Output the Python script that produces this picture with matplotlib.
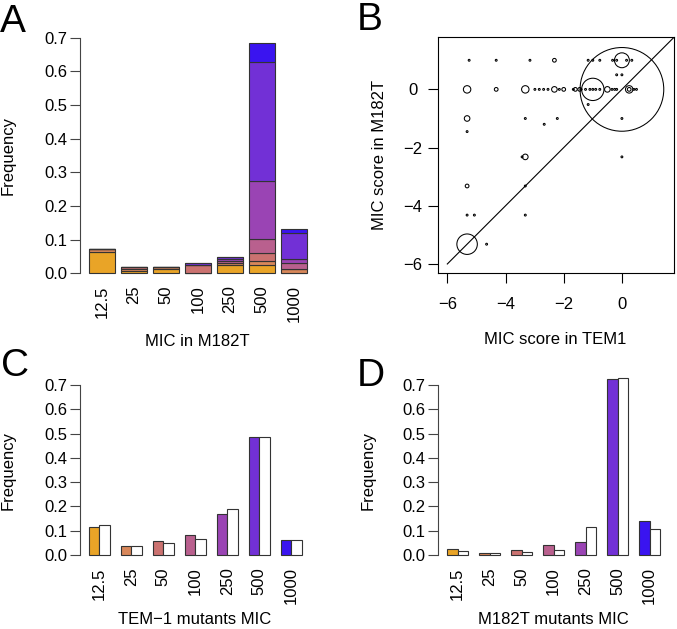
import matplotlib
matplotlib.use('Agg')
import matplotlib.pyplot as plt
import numpy as np

plt.rcParams['font.family'] = ['Liberation Sans', 'DejaVu Sans']
plt.rcParams['font.size'] = 12

#MIC classes and their colours
mic_labels = ['12.5', '25', '50', '100', '250', '500', '1000']
mic_colors = ['#E9A427', '#D8875A', '#CB7270', '#B9608E', '#9A44B4', '#7230D6', '#3A14F0']

#Panel A: stacked frequency, rows = colour class (TEM1 MIC), cols = MIC in M182T
stack_a = [
    [0.064, 0.007, 0.012, 0.000, 0.024, 0.024, 0.000],   # 12.5
    [0.008, 0.006, 0.008, 0.000, 0.008, 0.0125, 0.012],  # 25
    [0.000, 0.007, 0.000, 0.024, 0.000, 0.0245, 0.000],  # 50
    [0.000, 0.000, 0.000, 0.000, 0.005, 0.041, 0.018],   # 100
    [0.000, 0.000, 0.000, 0.000, 0.006, 0.173, 0.012],   # 250
    [0.000, 0.000, 0.000, 0.008, 0.006, 0.353, 0.077],   # 500
    [0.000, 0.000, 0.000, 0.000, 0.000, 0.055, 0.013],   # 1000
]

#Panel B: MIC scores of each mutant class and number of mutants
tem1_score = [-5.25, -4.32, -3.16, -2.32, -1.16, -1.0, -0.76, -0.32, -0.18, 0.0, 0.16, 0.34,
              -0.18, 0.0,
              -5.32, -4.32, -3.32, -2.99, -2.84, -2.69, -2.54, -2.32, -2.15, -2.0, -1.67, -1.6,
              -1.45, -1.40, -1.25, -1.10, -1.0, -1.0, -0.90, -0.76, -0.5, -0.34, -0.25, -0.18,
              0.0, 0.25, 0.25, 0.41, 0.5,
              -1.16, -5.32, -3.32, -2.22, -2.67, 0.0, -5.32, -3.32, -3.43, 0.0, -5.32, -3.32,
              -5.32, -5.07, -3.32, -5.32, -4.65]
m182t_score = [1, 1, 1, 1, 1, 1, 1, 1, 1, 1, 1, 1,
               0.5, 0.5,
               0, 0, 0, 0, 0, 0, 0, 0, 0, 0, 0, 0,
               0, 0, 0, 0, 0, 0, 0, 0, 0, 0, 0, 0,
               0, 0, 0, 0, 0,
               -0.52, -1, -1, -1, -1.2, -1, -1.45, -2.32, -2.32, -2.32, -3.32, -3.32,
               -4.32, -4.32, -4.32, -5.32, -5.32]
n_mut = [1, 1, 1, 2, 1, 1, 1, 1, 1, 8, 1, 1,
         1, 1,
         4, 2, 4, 1, 1, 1, 1, 3, 1, 2, 1, 2,
         2, 1, 1, 1, 12, 1, 1, 1, 3, 1, 1, 1,
         45, 4, 2, 1, 1,
         1, 3, 1, 1, 1, 1, 1, 3, 1, 1, 2, 1,
         1, 1, 1, 11, 1]

#Panel C and D: colored = observed, white = second series
freq_c = [0.114, 0.038, 0.058, 0.081, 0.169, 0.486, 0.060]
freq_c_white = [0.122, 0.038, 0.049, 0.066, 0.188, 0.486, 0.060]
freq_d = [0.023, 0.007, 0.019, 0.040, 0.052, 0.725, 0.141]
freq_d_white = [0.015, 0.008, 0.014, 0.021, 0.114, 0.729, 0.108]

W, H = 677, 629
fig = plt.figure(figsize=(W / 100, H / 100), dpi=100)


def add_ax(l, t, r, b):
    return fig.add_axes([l / W, 1 - b / H, (r - l) / W, (b - t) / H])


def label(x, y, s, **kw):
    fig.text(x / W, 1 - y / H, s, ha='center', va='center', **kw)


def freq_axis(ax):
    for side in ['top', 'right', 'bottom']:
        ax.spines[side].set_visible(False)
    ax.spines['left'].set_bounds(0, 0.7)
    ax.spines['left'].set_color('#444444')
    yt = np.arange(0, 0.71, 0.1)
    ax.set_yticks(yt)
    ax.set_yticklabels(['%.1f' % v for v in yt])
    ax.tick_params(axis='y', length=7, width=0.8, color='#444444', pad=2)
    ax.set_ylim(-0.028, 0.728)


edge = '#333333'

#Panel A
ax = add_ax(80, 28.3, 316.2, 282.7)
xa = 0.7 + 1.2 * np.arange(len(mic_labels))
bottom = np.zeros(len(mic_labels))
for i, row in enumerate(stack_a):
    row = np.array(row)
    ax.bar(xa, row, width=1.0, bottom=bottom, color=mic_colors[i], edgecolor=edge,
           linewidth=0.8)
    bottom += row
ax.set_xlim(-0.128, 8.728)
freq_axis(ax)
ax.set_xticks(xa)
ax.set_xticklabels(mic_labels, rotation=90, va='top', ha='center')
ax.tick_params(axis='x', length=0, pad=2)
label(197, 341, 'MIC in M182T')
label(8, 155.5, 'Frequency', rotation=90)

#Panel B
ax = add_ax(438, 37, 674, 273)
diag = [-6, 2]
ax.plot(diag, diag, color='black', linewidth=0.8)
sizes = (1.44 * 0.93 * np.array(n_mut)) ** 2
ax.scatter(tem1_score, m182t_score, s=sizes, facecolors='none', edgecolors='black',
           linewidths=0.75, clip_on=False, zorder=3)
ax.set_xlim(-6.32, 1.79)
ax.set_ylim(-6.31, 1.8)
ticks_b = [-6, -4, -2, 0]
tick_txt = ['\u22126', '\u22124', '\u22122', '0']
ax.set_xticks(ticks_b)
ax.set_xticklabels(tick_txt)
ax.set_yticks(ticks_b)
ax.set_yticklabels(tick_txt, ha='center')
ax.tick_params(axis='x', length=7, width=0.8, pad=10)
ax.tick_params(axis='y', length=7, width=0.8, pad=11)
for sp in ax.spines.values():
    sp.set_linewidth(0.8)
label(555, 340, 'MIC score in TEM1')
label(380, 155, 'MIC score in M182T', rotation=90)

#Panel C and D
xc = 1 + 3 * np.arange(len(mic_labels))
for (l, r), col, white, xl, yx, xlab in [
        ((80, 310.4), freq_c, freq_c_white, 195, 8, 'TEM\u22121 mutants MIC'),
        ((438.3, 668.7), freq_d, freq_d_white, 553, 368, 'M182T mutants MIC')]:
    ax = add_ax(l, 378.2, r, 561.8)
    ax.bar(xc, col, width=1.0, align='edge', color=mic_colors, edgecolor=edge,
           linewidth=0.8, clip_on=False)
    ax.bar(xc + 1, white, width=1.0, align='edge', color='white', edgecolor=edge,
           linewidth=0.8, clip_on=False)
    ax.set_xlim(0.2, 21.8)
    freq_axis(ax)
    ax.set_xticks(xc + 1)
    ax.set_xticklabels(mic_labels, rotation=90, va='top', ha='center')
    ax.tick_params(axis='x', length=0, pad=4)
    label(xl, 620, xlab)
    label(yx, 470, 'Frequency', rotation=90)

#Panel letters
for x, y, s in [(0, 32, 'A'), (357, 30, 'B'), (1, 376, 'C'), (357, 386, 'D')]:
    fig.text(x / W, 1 - y / H, s, fontsize=28, ha='left', va='baseline')

fig.savefig('out.png', dpi=100)
